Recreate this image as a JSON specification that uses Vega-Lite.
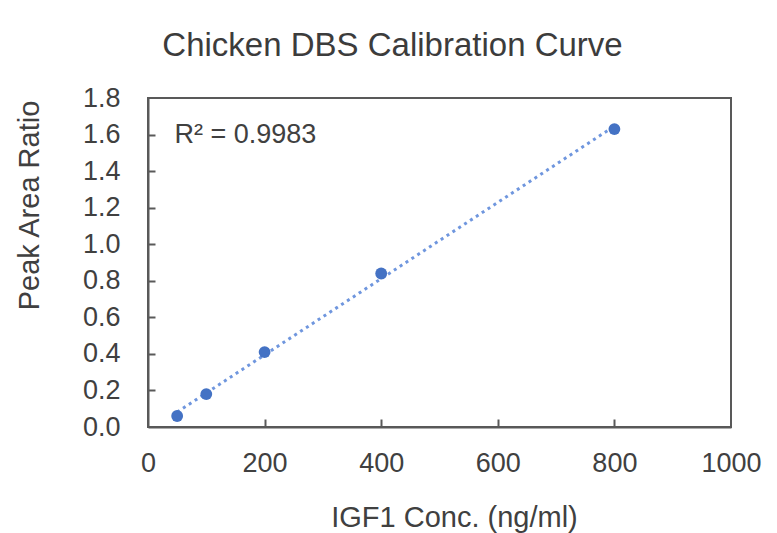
{
  "$schema": "https://vega.github.io/schema/vega-lite/v6.json",
  "width": 583,
  "height": 329,
  "autosize": {"type": "none"},
  "padding": {"left": 148, "top": 98, "right": 46, "bottom": 106},
  "background": "white",
  "title": {
    "text": "Chicken DBS Calibration Curve",
    "font": "Liberation Sans",
    "fontSize": 33,
    "fontWeight": "normal",
    "color": "#3c3c3c",
    "anchor": "middle",
    "frame": "group",
    "dx": -47,
    "dy": 15,
    "baseline": "alphabetic",
    "offset": 10
  },
  "config": {
    "view": {"stroke": "#595959", "strokeWidth": 2},
    "font": "Liberation Sans"
  },
  "datasets": {
    "points": [
      {"conc": 50, "ratio": 0.06},
      {"conc": 100, "ratio": 0.18},
      {"conc": 200, "ratio": 0.41},
      {"conc": 400, "ratio": 0.84},
      {"conc": 800, "ratio": 1.63}
    ],
    "label": [
      {"conc": 45.5, "ratio": 1.555, "text": "R² = 0.9983"}
    ]
  },
  "resolve": {"axis": {"x": "independent", "y": "independent"}},
  "layer": [
    {
      "data": {"name": "points"},
      "transform": [{"regression": "ratio", "on": "conc"}],
      "mark": {"type": "line", "color": "#6f96de", "strokeWidth": 3, "strokeDash": [3, 4]},
      "encoding": {
        "x": {
          "field": "conc", "type": "quantitative",
          "scale": {"domain": [0, 1000], "nice": false},
          "axis": {
            "orient": "bottom",
            "title": "IGF1 Conc. (ng/ml)",
            "values": [0, 200, 400, 600, 800, 1000],
            "format": "d",
            "grid": false,
            "ticks": false,
            "domainColor": "#595959", "domainWidth": 2,
            "labelFont": "Liberation Sans", "labelFontSize": 27, "labelColor": "#404040",
            "labelPadding": 23,
            "labelFlush": false,
            "labelOverlap": false,
            "titleFont": "Liberation Sans", "titleFontSize": 29, "titleFontWeight": "normal", "titleColor": "#404040",
            "titleX": 306, "titleY": 99, "titleBaseline": "alphabetic", "titleAlign": "center"
          }
        },
        "y": {
          "field": "ratio", "type": "quantitative",
          "scale": {"domain": [0, 1.8], "nice": false},
          "axis": {
            "orient": "left",
            "title": "Peak Area Ratio",
            "values": [0, 0.2, 0.4, 0.6, 0.8, 1.0, 1.2, 1.4, 1.6, 1.8],
            "format": ".1f",
            "grid": false,
            "ticks": false,
            "domainColor": "#595959", "domainWidth": 2,
            "labelFont": "Liberation Sans", "labelFontSize": 27, "labelColor": "#404040",
            "labelPadding": 28,
            "labelFlush": false,
            "labelOverlap": false,
            "titleFont": "Liberation Sans", "titleFontSize": 29, "titleFontWeight": "normal", "titleColor": "#404040",
            "titleX": -110, "titleY": 107, "titleAngle": -90, "titleBaseline": "alphabetic", "titleAlign": "center"
          }
        }
      }
    },
    {
      "data": {"name": "points"},
      "mark": {"type": "circle", "color": "#4472C4", "opacity": 1, "size": 140},
      "encoding": {
        "x": {
          "field": "conc", "type": "quantitative",
          "axis": {
            "orient": "top", "offset": -329,
            "values": [200, 400, 600, 800],
            "title": null, "labels": false, "domain": false, "grid": false,
            "ticks": true, "tickSize": 8, "tickColor": "#595959", "tickWidth": 2
          }
        },
        "y": {
          "field": "ratio", "type": "quantitative",
          "axis": {
            "orient": "right", "offset": -583,
            "values": [0.2, 0.4, 0.6, 0.8, 1.0, 1.2, 1.4, 1.6],
            "title": null, "labels": false, "domain": false, "grid": false,
            "ticks": true, "tickSize": 7, "tickColor": "#595959", "tickWidth": 2
          }
        }
      }
    },
    {
      "data": {"name": "label"},
      "mark": {"type": "text", "align": "left", "baseline": "alphabetic", "font": "Liberation Sans", "fontSize": 27, "color": "#404040"},
      "encoding": {
        "x": {"field": "conc", "type": "quantitative", "axis": null},
        "y": {"field": "ratio", "type": "quantitative", "axis": null},
        "text": {"field": "text"}
      }
    }
  ]
}
